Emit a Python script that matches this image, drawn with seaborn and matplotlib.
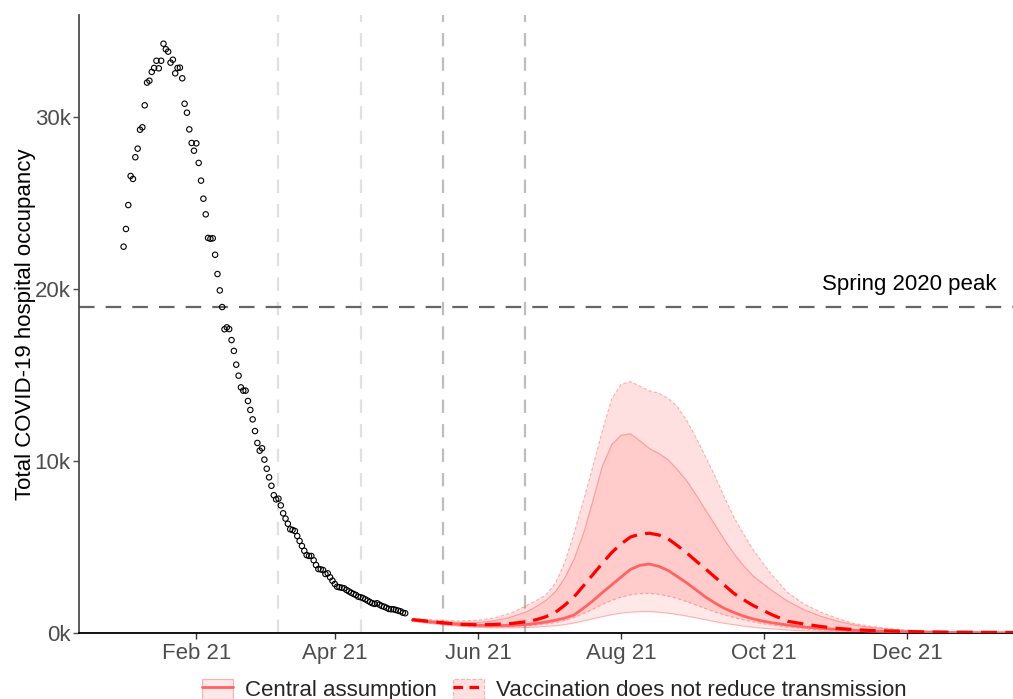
import numpy as np
import pandas as pd
import matplotlib
matplotlib.use("Agg")
import matplotlib.pyplot as plt
import matplotlib.dates as mdates
from matplotlib.patches import Patch
from matplotlib.lines import Line2D
from matplotlib.ticker import FuncFormatter
import seaborn as sns

# Observed total COVID-19 hospital occupancy (thousands), daily from 1 Jan 2021
obs_start = "2021-01-01"
observed_k = [
    22.46, 23.49, 24.88, 26.57, 26.40, 27.66, 28.16, 29.26, 29.40, 30.68,
    32.00, 32.11, 32.62, 32.85, 33.27, 32.83, 33.27, 34.26, 33.94, 33.80,
    33.16, 33.33, 32.54, 32.85, 32.87, 32.25, 30.77, 30.25, 29.28, 28.49,
    28.04, 28.47, 27.33, 26.30, 25.25, 24.34, 22.97, 22.92, 22.95, 21.99,
    20.87, 19.92, 18.95, 17.66, 17.77, 17.67, 17.03, 16.40, 15.60, 14.96,
    14.28, 14.09, 14.09, 13.49, 12.97, 12.42, 11.74, 11.05, 10.60, 10.74,
    10.08, 9.55, 9.05, 8.56, 8.01, 7.77, 7.81, 7.42, 6.96, 6.65,
    6.35, 6.03, 5.99, 5.93, 5.64, 5.35, 5.06, 4.78, 4.53, 4.48,
    4.48, 4.23, 3.95, 3.72, 3.70, 3.66, 3.43, 3.47, 3.24, 3.04,
    2.85, 2.69, 2.66, 2.63, 2.60, 2.50, 2.42, 2.34, 2.27, 2.21,
    2.11, 2.08, 2.03, 1.96, 1.88, 1.80, 1.73, 1.69, 1.73, 1.65,
    1.57, 1.53, 1.47, 1.40, 1.38, 1.38, 1.34, 1.30, 1.26, 1.18, 1.15,
]

# Projection dates: weekly to mid-June, every 4 days through the summer wave,
# then weekly to the end of the horizon
proj_dates = (
    list(pd.date_range("2021-05-04", "2021-06-15", freq="7D"))
    + list(pd.date_range("2021-06-22", "2021-10-04", freq="4D"))
    + list(pd.date_range("2021-10-11", "2022-01-17", freq="7D"))
)

# Modelled projections (thousands)
central_mid_k = [
    0.75, 0.65, 0.57, 0.50, 0.45, 0.43, 0.44,
    0.50, 0.56, 0.64, 0.74, 0.87, 1.05, 1.45, 1.87, 2.35, 2.80,
    3.25, 3.70, 3.93, 4.01, 3.88, 3.64, 3.28, 2.91, 2.50, 2.09,
    1.74, 1.43, 1.20, 0.99, 0.83, 0.70, 0.60,
    0.46, 0.35, 0.27, 0.21, 0.16, 0.12, 0.09, 0.07, 0.05, 0.04,
    0.03, 0.025, 0.02, 0.015, 0.012,
]
central_lo_k = [
    0.68, 0.56, 0.46, 0.38, 0.33, 0.30, 0.30,
    0.32, 0.34, 0.38, 0.42, 0.49, 0.58, 0.70, 0.82, 0.95, 1.06,
    1.15, 1.21, 1.24, 1.24, 1.21, 1.15, 1.07, 0.98, 0.88, 0.77,
    0.66, 0.56, 0.48, 0.40, 0.34, 0.28, 0.24,
    0.17, 0.125, 0.095, 0.07, 0.05, 0.04, 0.03, 0.025, 0.02, 0.015,
    0.012, 0.01, 0.01, 0.01, 0.01,
]
central_hi_k = [
    0.80, 0.72, 0.65, 0.60, 0.62, 0.72, 0.92,
    1.25, 1.55, 1.90, 2.40, 3.20, 4.30, 5.80, 7.70, 9.70, 10.95,
    11.50, 11.58, 11.18, 10.73, 10.45, 10.08, 9.50, 8.85, 8.02, 7.15,
    6.30, 5.42, 4.63, 3.95, 3.35, 2.92, 2.50,
    1.85, 1.35, 0.98, 0.70, 0.48, 0.33, 0.23, 0.16, 0.11, 0.08,
    0.06, 0.045, 0.035, 0.028, 0.02,
]
novax_mid_k = [
    0.78, 0.68, 0.58, 0.50, 0.48, 0.50, 0.55,
    0.66, 0.78, 0.95, 1.20, 1.62, 2.11, 2.75, 3.40, 4.05, 4.68,
    5.18, 5.58, 5.75, 5.80, 5.70, 5.48, 5.08, 4.65, 4.18, 3.72,
    3.25, 2.78, 2.31, 1.95, 1.62, 1.35, 1.08,
    0.68, 0.52, 0.38, 0.27, 0.20, 0.15, 0.12, 0.09, 0.07, 0.06,
    0.05, 0.045, 0.04, 0.035, 0.03,
]
novax_lo_k = [
    0.70, 0.60, 0.50, 0.42, 0.38, 0.36, 0.37,
    0.42, 0.46, 0.52, 0.60, 0.72, 0.90, 1.12, 1.38, 1.65, 1.90,
    2.08, 2.22, 2.29, 2.30, 2.25, 2.14, 2.00, 1.82, 1.62, 1.42,
    1.22, 1.05, 0.90, 0.77, 0.65, 0.55, 0.46,
    0.33, 0.24, 0.17, 0.13, 0.09, 0.07, 0.05, 0.04, 0.03, 0.025,
    0.02, 0.02, 0.015, 0.015, 0.01,
]
novax_hi_k = [
    0.85, 0.78, 0.72, 0.70, 0.75, 0.88, 1.15,
    1.62, 1.90, 2.22, 2.90, 4.10, 5.82, 7.72, 9.70, 11.75, 13.62,
    14.45, 14.62, 14.35, 14.08, 13.95, 13.65, 13.16, 12.35, 11.35, 10.25,
    9.12, 7.90, 6.75, 5.80, 4.90, 4.15, 3.42,
    2.35, 1.68, 1.22, 0.86, 0.56, 0.40, 0.28, 0.19, 0.13, 0.09,
    0.07, 0.05, 0.04, 0.035, 0.03,
]

spring_peak_k = 18.95
step_dates = ["2021-03-08", "2021-04-12", "2021-05-17", "2021-06-21"]
step_colors = ["#E0E0E0", "#E0E0E0", "#BDBDBD", "#BDBDBD"]
tick_dates = ["2021-02-01", "2021-04-01", "2021-06-01",
              "2021-08-01", "2021-10-01", "2021-12-01"]
legend_labels = ["Central assumption", "Vaccination does not reduce transmission"]

obs = pd.DataFrame({
    "date": pd.date_range(obs_start, periods=len(observed_k), freq="D"),
    "beds": np.array(observed_k) * 1000,
})
proj = pd.DataFrame({
    "date": pd.to_datetime(proj_dates),
    "central": np.array(central_mid_k) * 1000,
    "central_lo": np.array(central_lo_k) * 1000,
    "central_hi": np.array(central_hi_k) * 1000,
    "novax": np.array(novax_mid_k) * 1000,
    "novax_lo": np.array(novax_lo_k) * 1000,
    "novax_hi": np.array(novax_hi_k) * 1000,
})

sns.set_theme(style="white")
plt.rcParams["font.family"] = ["Liberation Sans", "DejaVu Sans"]

W, H = 1013, 699
fig = plt.figure(figsize=(W / 100, H / 100), dpi=100)
ax = fig.add_axes([79 / W, 1 - 633 / H, 1 - 79 / W, (633 - 15) / H])

CENTRAL_LINE = "#FF6464"
NOVAX_LINE = "#FF0000"
band_central = (1, 0, 0, 0.09)
band_novax = (1, 0, 0, 0.12)
edge = (1, 0, 0, 0.28)

# Roadmap step dates
for d, c in zip(step_dates, step_colors):
    ax.axvline(pd.Timestamp(d), color=c, lw=1.6, dashes=(6, 5), zorder=1)

# Spring 2020 peak reference
ax.axhline(spring_peak_k * 1000, color="#666666", lw=1.6, dashes=(7, 5), zorder=1)
ax.text(pd.Timestamp("2022-01-08"), 20250, "Spring 2020 peak", ha="right",
        va="center", fontsize=16, color="black")

# Uncertainty bands
ax.fill_between(proj["date"], proj["novax_lo"], proj["novax_hi"],
                facecolor=band_novax, edgecolor="none", zorder=2)
ax.fill_between(proj["date"], proj["central_lo"], proj["central_hi"],
                facecolor=band_central, edgecolor="none", zorder=2)
for col in ["novax_lo", "novax_hi"]:
    ax.plot(proj["date"], proj[col], color=edge, lw=0.8, ls=(0, (3, 2)), zorder=3)
for col in ["central_lo", "central_hi"]:
    ax.plot(proj["date"], proj[col], color=edge, lw=0.8, zorder=3)

# Median projections
sns.lineplot(data=proj, x="date", y="central", ax=ax, color=CENTRAL_LINE,
             lw=2.0, zorder=4)
sns.lineplot(data=proj, x="date", y="novax", ax=ax, color=NOVAX_LINE,
             lw=2.3, zorder=5)
ax.lines[-1].set_dashes((5, 2.6))

# Observed occupancy
sns.scatterplot(data=obs, x="date", y="beds", ax=ax, marker="o", s=15,
                edgecolor="black", facecolor="none", linewidth=0.8, zorder=6)
ax.collections[-1].set_facecolor("none")
ax.collections[-1].set_edgecolor("black")

ax.set_xlim(pd.Timestamp("2020-12-13"), pd.Timestamp("2022-01-15"))
ax.set_ylim(0, 35930)
ax.set_xticks([pd.Timestamp(d) for d in tick_dates])
ax.xaxis.set_major_formatter(mdates.DateFormatter("%b %y"))
ax.set_yticks([0, 10000, 20000, 30000])
ax.yaxis.set_major_formatter(FuncFormatter(lambda v, p: f"{int(round(v / 1000))}k"))

ax.set_xlabel("")
ax.set_ylabel("Total COVID-19 hospital occupancy", fontsize=16, color="black",
              labelpad=-1)
ax.tick_params(axis="both", labelsize=16, labelcolor="#4D4D4D")
ax.tick_params(axis="y", length=4, width=1, color="#4D4D4D", left=True, pad=2)
ax.tick_params(axis="x", length=4, width=1, color="#333333", bottom=True, pad=3)

for s in ["top", "right"]:
    ax.spines[s].set_visible(False)
ax.spines["left"].set_color("#4D4D4D")
ax.spines["left"].set_linewidth(1.3)
ax.spines["bottom"].set_color("black")
ax.spines["bottom"].set_linewidth(1.3)
ax.grid(False)

handles = [
    (Patch(facecolor=band_central, edgecolor=edge, lw=0.8),
     Line2D([], [], color=CENTRAL_LINE, lw=2.0)),
    (Patch(facecolor=band_novax, edgecolor=edge, lw=0.8, ls="--"),
     Line2D([], [], color=NOVAX_LINE, lw=2.3, dashes=(3, 2))),
]
fig.legend(handles, legend_labels, loc="center", bbox_to_anchor=(0.547, 0.013),
           bbox_transform=fig.transFigure, ncol=2, frameon=False, fontsize=16,
           handlelength=1.4, handleheight=1.0, handletextpad=0.55,
           columnspacing=0.7)

fig.savefig("out.png", dpi=100)
